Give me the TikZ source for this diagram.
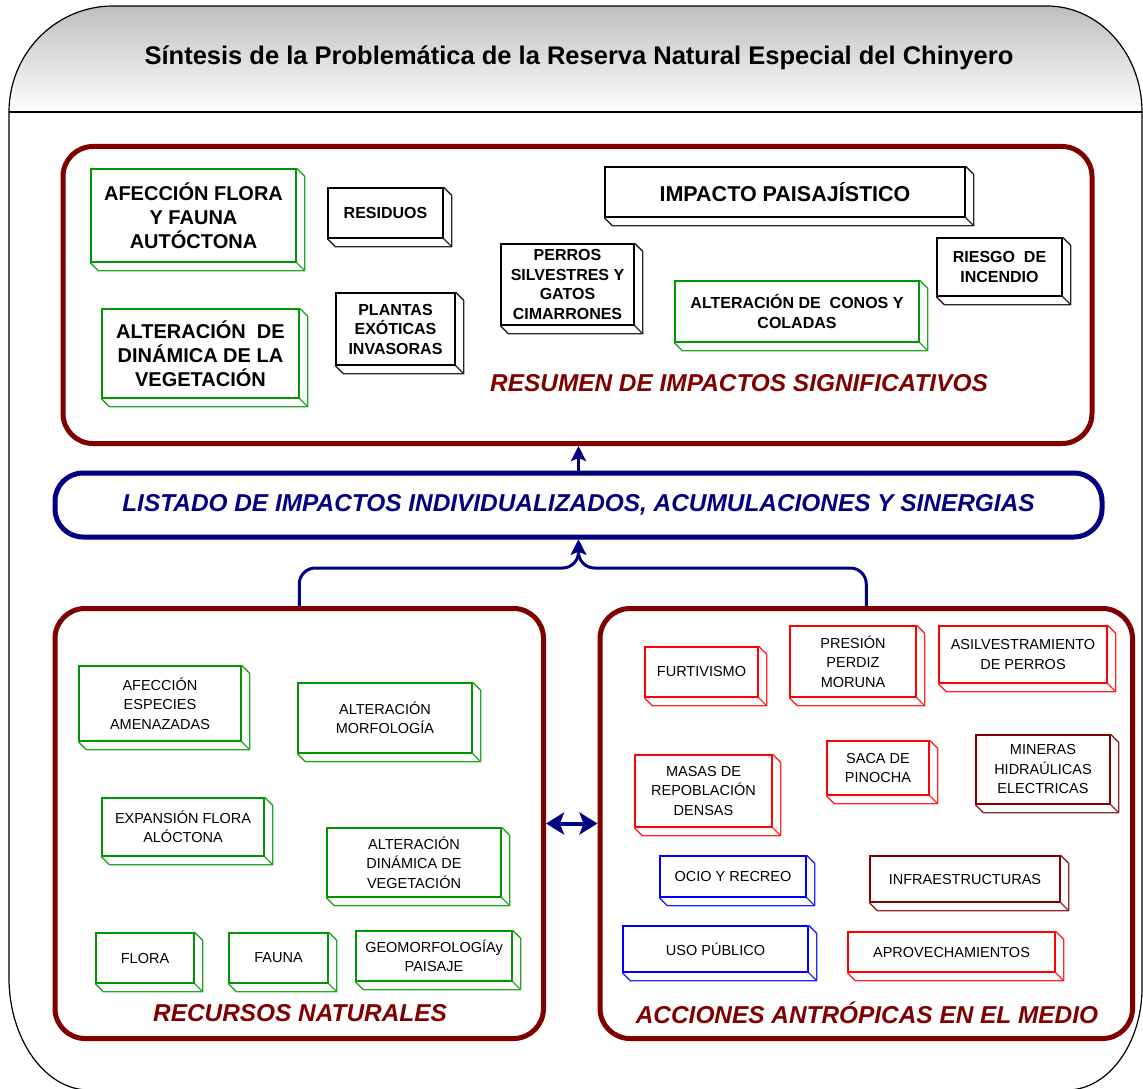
\documentclass[tikz,border=0pt]{standalone}
\usepackage{fontspec}
\setmainfont{Liberation Sans}
\usetikzlibrary{arrows.meta}

\definecolor{maroon}{RGB}{128,0,0}
\definecolor{navy}{RGB}{0,0,128}
\definecolor{leaf}{RGB}{0,150,0}
\definecolor{headgray}{RGB}{190,190,190}

\newcommand{\fttl}{\fontsize{25.5}{30}\selectfont\bfseries}
\newcommand{\flab}{\fontsize{24.4}{29}\selectfont\bfseries\itshape}
\newcommand{\fbig}{\fontsize{20}{24}\selectfont\bfseries}
\newcommand{\fimp}{\fontsize{21.5}{26}\selectfont\bfseries}
\newcommand{\fmid}{\fontsize{16}{19.5}\selectfont\bfseries}
\newcommand{\freg}{\fontsize{14.5}{19.5}\selectfont}

\begin{document}
\begin{tikzpicture}[x=1pt,y=-1pt]
	\tikzstyle{every node}=[inner sep=0pt, align=center]
	\tikzstyle{cube}=[draw, fill=white, line width=1.4pt]
	\tikzstyle{panel}=[draw=maroon, line width=5pt, rounded corners=30pt]
	\tikzstyle{flow}=[navy, line width=3pt, -{Stealth[length=15pt,width=15pt,inset=3pt]}]
	\useasboundingbox (0,0) rectangle (1143,1089);
	% header
	\shade[top color=headgray, bottom color=white] (9,112) .. controls (9,53.5) and (55.6,6) .. (113,6) -- (1047,6) .. controls (1099.4,6) and (1142,53.5) .. (1142,112) -- cycle;
	\draw[line width=1.2pt] (9,112) .. controls (9,53.5) and (55.6,6) .. (113,6) -- (1047,6) .. controls (1099.4,6) and (1142,53.5) .. (1142,112);
	\draw[line width=1.2pt] (9,112) -- (1142,112);
	\draw[line width=1.2pt] (9,112) -- (9,978) .. controls (9,1038.7) and (44.8,1090) .. (89,1090) -- (1067,1090) .. controls (1108.4,1090) and (1142,1043.2) .. (1142,988) -- (1142,112);
	\node[font=\fttl] (ttl) at (579,58) {Síntesis de la Problemática de la Reserva Natural Especial del Chinyero};
	% panels
	\node[panel, minimum width=1029, minimum height=297] (sum) at (577.5,295) {};
	\node[panel, minimum width=488.5, minimum height=430] (rec) at (299.25,823.5) {};
	\node[panel, minimum width=532.5, minimum height=430] (acc) at (866.25,823.5) {};
	\node[draw=navy, line width=5pt, rounded corners=28pt, minimum width=1047, minimum height=64, font=\flab, text=navy] (lst) at (578.5,505) {LISTADO DE IMPACTOS INDIVIDUALIZADOS, ACUMULACIONES Y SINERGIAS};
	\node[font=\flab, text=maroon] (sumlab) at (739,383) {RESUMEN DE IMPACTOS SIGNIFICATIVOS};
	\node[font=\flab, text=maroon] (reclab) at (300,1013) {RECURSOS NATURALES};
	\node[font=\flab, text=maroon] (acclab) at (867,1013) {ACCIONES ANTRÓPICAS EN EL MEDIO};
	% resumen
	\node[cube, draw=leaf, font=\fbig, minimum width=205, minimum height=93] (afl) at (193.5,215.5) {AFECCIÓN FLORA\\Y FAUNA\\AUTÓCTONA};
	\node[cube, font=\fmid, minimum width=115, minimum height=50] (res) at (385.5,213) {RESIDUOS};
	\node[cube, draw=leaf, font=\fbig, minimum width=197, minimum height=89] (adv) at (200.5,353.5) {ALTERACIÓN~~DE\\DINÁMICA DE LA\\VEGETACIÓN};
	\node[cube, font=\fmid, minimum width=119, minimum height=72] (pla) at (395.5,329) {PLANTAS\\EXÓTICAS\\INVASORAS};
	\node[cube, font=\fmid, minimum width=133, minimum height=81] (per) at (567.5,284.5) {PERROS\\SILVESTRES Y\\GATOS\\CIMARRONES};
	\node[cube, font=\fimp, minimum width=360, minimum height=50] (imp) at (785,192) {IMPACTO PAISAJÍSTICO};
	\node[cube, font=\fmid, minimum width=125, minimum height=58] (rie) at (999.5,267) {RIESGO~~DE\\INCENDIO};
	\node[cube, draw=leaf, font=\fmid, minimum width=244, minimum height=61] (con) at (797,311.5) {ALTERACIÓN DE~~CONOS Y\\COLADAS};
	% recursos naturales
	\node[cube, draw=leaf, font=\freg, minimum width=162, minimum height=75] (aea) at (160,703.5) {AFECCIÓN\\ESPECIES\\AMENAZADAS};
	\node[cube, draw=leaf, font=\freg, minimum width=174, minimum height=70] (amo) at (385,718) {ALTERACIÓN\\MORFOLOGÍA};
	\node[cube, draw=leaf, font=\freg, minimum width=162, minimum height=58] (efa) at (183,827) {EXPANSIÓN FLORA\\ALÓCTONA};
	\node[cube, draw=leaf, font=\freg, minimum width=174, minimum height=69] (adn) at (414,862.5) {ALTERACIÓN\\DINÁMICA DE\\VEGETACIÓN};
	\node[cube, draw=leaf, font=\freg, minimum width=98, minimum height=50] (flo) at (145,958) {FLORA};
	\node[cube, draw=leaf, font=\freg, minimum width=99, minimum height=50] (fau) at (278.5,958) {FAUNA};
	\node[cube, draw=leaf, font=\freg, minimum width=156, minimum height=50] (geo) at (434,956) {GEOMORFOLOGÍAy\\PAISAJE};
	% acciones antropicas
	\node[cube, draw=red, font=\freg, minimum width=113, minimum height=50] (fur) at (701.5,672) {FURTIVISMO};
	\node[cube, draw=red, font=\freg, minimum width=126, minimum height=71] (ppm) at (853,661.5) {PRESIÓN\\PERDIZ\\MORUNA};
	\node[cube, draw=red, font=\freg, minimum width=168, minimum height=57] (asp) at (1023,654.5) {ASILVESTRAMIENTO\\DE PERROS};
	\node[cube, draw=red, font=\freg, minimum width=137, minimum height=72] (mrd) at (703.5,791) {MASAS DE\\REPOBLACIÓN\\DENSAS};
	\node[cube, draw=red, font=\freg, minimum width=102, minimum height=54] (spi) at (878,768) {SACA DE\\PINOCHA};
	\node[cube, draw=maroon, font=\freg, minimum width=134, minimum height=69] (mhe) at (1043,769.5) {MINERAS\\HIDRAÚLICAS\\ELECTRICAS};
	\node[cube, draw=blue, font=\freg, minimum width=146, minimum height=41] (ocr) at (733,876.5) {OCIO Y RECREO};
	\node[cube, draw=maroon, font=\freg, minimum width=190, minimum height=46] (inf) at (965,879) {INFRAESTRUCTURAS};
	\node[cube, draw=blue, font=\freg, minimum width=185, minimum height=46] (upu) at (715.5,949) {USO PÚBLICO};
	\node[cube, draw=red, font=\freg, minimum width=207, minimum height=40] (apr) at (951.5,952) {APROVECHAMIENTOS};
	% depth of the boxes
	\foreach \n/\c in {afl/leaf, res/black, adv/leaf, pla/black, per/black, imp/black, rie/black, con/leaf,
		aea/leaf, amo/leaf, efa/leaf, adn/leaf, flo/leaf, fau/leaf, geo/leaf,
		fur/red, ppm/red, asp/red, mrd/red, spi/red, mhe/maroon, ocr/blue, inf/maroon, upu/blue, apr/red}
		\draw[\c!85, line width=1.3pt, line join=round] (\n.north east) -- ++(8,8) |- ([shift={(8,8)}]\n.south west) -- (\n.south west) (\n.south east) -- ++(8,8);
	% connectors
	\draw[flow] (lst.north) -- (lst.north |- sum.south);
	\draw[flow, rounded corners=16pt] (rec.north) -- (rec.north |- 0,568) -- (lst.south |- 0,568) -- (lst.south);
	\draw[flow, rounded corners=16pt] (acc.north) -- (acc.north |- 0,568) -- (lst.south |- 0,568) -- (lst.south);
	\draw[navy, line width=4pt, {Stealth[length=18pt,width=22pt,inset=4pt]}-{Stealth[length=18pt,width=22pt,inset=4pt]}] (rec.east) -- (acc.west);
\end{tikzpicture}
\end{document}
